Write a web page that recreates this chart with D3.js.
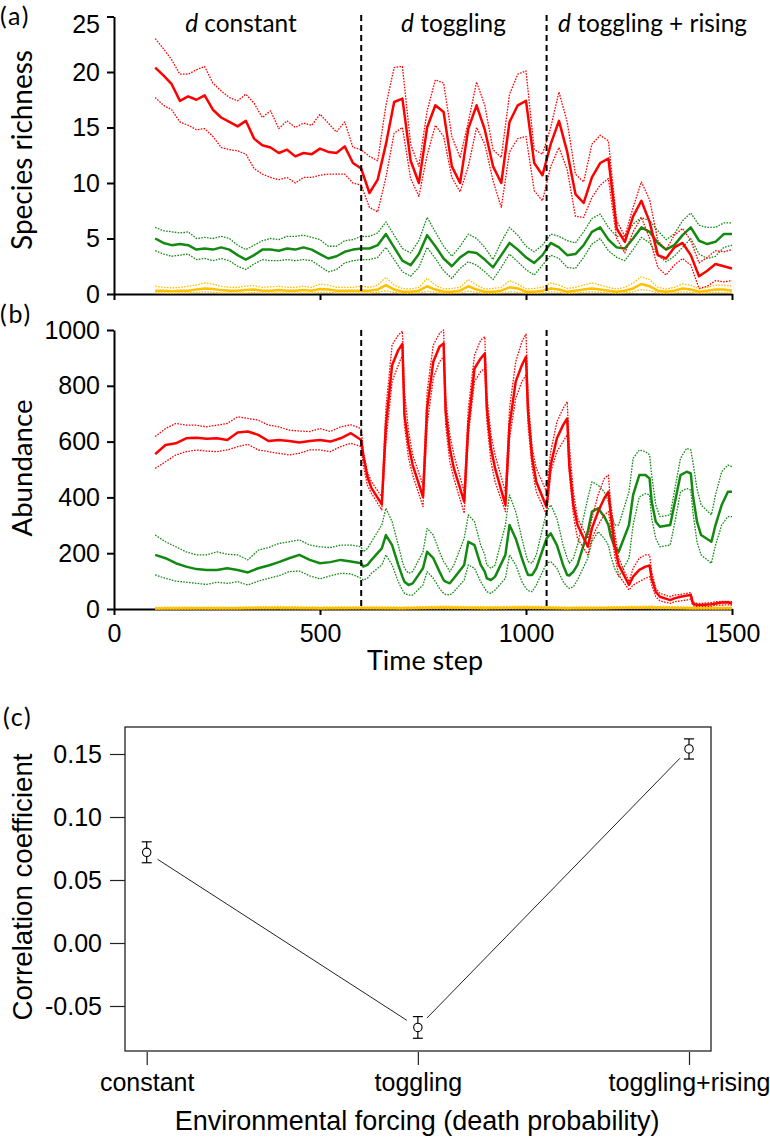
<!DOCTYPE html>
<html><head><meta charset="utf-8">
<script src="https://cdn.jsdelivr.net/npm/d3@7"></script>
<style>
html,body{margin:0;padding:0;background:#fff;}
svg{display:block;}
</style>
</head><body>
<svg id="chart" width="770" height="1139"></svg>
<script>
// ---------------- DATA ----------------
// Panel (a): species richness, sampled every 20 time steps
const timesA = [100,120,140,160,180,200,220,240,260,280,300,320,340,360,380,400,420,440,460,480,500,520,540,560,580,600,620,640,660,680,700,720,740,760,780,800,820,840,860,880,900,920,940,960,980,1000,1020,1040,1060,1080,1100,1120,1140,1160,1180,1200,1220,1240,1260,1280,1300,1320,1340,1360,1380,1400,1420,1440,1460,1480,1500];
const redMeanA = [20.4,19.7,18.9,17.4,17.8,17.5,17.9,16.6,15.9,15.5,15.1,15.6,14.0,13.4,13.2,12.7,13.0,12.4,12.7,12.6,13.1,12.8,12.7,13.3,11.8,11.3,9.1,10.3,13.5,17.3,17.6,12.0,10.0,15.0,17.0,16.4,11.5,10.0,14.9,17.0,14.8,11.5,10.0,15.5,17.0,17.4,11.8,10.7,13.5,15.6,12.8,9.0,8.2,10.5,11.8,12.2,5.9,4.7,7.0,8.4,6.5,3.5,3.2,4.2,4.6,3.5,1.6,2.1,2.7,2.5,2.3];
const redUpA = [23.0,22.1,21.1,19.8,19.8,20.2,20.5,19.0,18.3,17.7,17.4,18.0,17.2,15.9,16.5,14.9,15.6,15.0,15.4,15.2,16.2,15.4,14.6,15.5,13.2,13.0,12.4,12.0,17.0,20.4,20.5,13.5,11.5,16.5,19.3,19.0,14.2,12.3,15.5,19.1,17.0,13.0,12.3,18.0,19.8,20.1,13.0,12.6,15.0,18.2,15.5,10.8,10.1,13.5,14.3,13.8,6.6,5.2,7.8,10.1,8.5,4.8,4.0,5.3,5.9,4.8,2.8,3.3,3.9,3.8,4.0];
const redLoA = [17.7,17.0,16.6,15.5,15.2,14.8,14.9,14.2,13.2,13.0,12.9,12.6,11.3,10.8,10.5,10.3,10.5,10.0,10.5,10.5,10.7,10.8,10.8,10.8,10.0,9.8,7.8,7.4,10.5,14.5,15.0,10.4,8.8,12.5,15.2,14.2,10.5,9.2,11.5,15.0,13.5,10.2,7.8,12.8,14.0,14.2,9.3,8.4,11.5,13.2,11.2,7.0,6.9,8.7,9.8,10.4,5.0,3.7,5.6,6.9,5.0,2.4,1.7,2.6,3.2,2.6,0.5,0.7,1.2,1.1,1.2];
const greenMeanA = [5.0,4.6,4.4,4.5,4.4,4.0,4.1,4.0,4.2,4.0,3.5,3.1,3.5,4.0,4.0,3.9,4.1,4.0,4.2,4.0,3.6,3.2,3.4,3.8,4.0,4.1,4.1,4.4,5.4,4.2,3.0,2.6,3.6,5.3,4.3,3.2,2.5,3.3,3.8,3.7,3.1,2.4,3.5,4.6,4.0,3.3,2.8,3.5,4.6,4.2,3.5,3.6,4.4,5.6,6.0,4.9,4.2,4.1,5.0,6.0,5.6,4.6,4.0,4.4,5.3,6.0,4.8,4.5,4.7,5.4,5.4];
const greenUpA = [6.0,5.7,5.6,5.5,5.6,5.0,5.1,5.0,5.2,5.0,4.4,4.0,4.4,4.8,5.0,4.9,5.2,5.2,5.3,5.1,4.9,4.3,4.3,4.8,4.9,5.2,5.2,5.5,6.5,5.3,4.1,3.7,4.8,6.9,5.6,4.3,3.4,4.3,5.4,5.0,4.2,3.1,4.7,6.0,5.3,4.3,3.8,4.4,5.4,5.2,4.8,4.6,5.6,6.8,7.2,6.0,5.2,5.2,6.3,6.9,6.6,5.7,4.9,5.4,6.6,7.3,6.2,6.0,6.0,6.4,6.4];
const greenLoA = [3.9,3.6,3.4,3.5,3.6,3.1,3.2,3.0,3.2,3.0,2.5,2.2,2.7,3.1,3.0,3.0,3.1,3.0,3.1,3.0,2.5,2.0,2.2,2.8,3.0,3.1,3.1,3.3,4.2,3.1,2.0,1.6,2.4,4.2,3.2,2.1,1.4,2.3,2.9,2.6,2.0,1.3,2.4,3.6,2.9,2.2,1.7,2.6,3.5,3.2,2.4,2.3,3.3,4.5,5.0,3.9,3.3,3.0,4.0,5.1,4.6,3.5,2.9,3.4,4.2,5.0,3.6,3.2,3.4,4.2,4.4];
const goldMeanA = [0.3,0.3,0.25,0.3,0.3,0.4,0.5,0.45,0.35,0.3,0.3,0.35,0.4,0.3,0.3,0.35,0.3,0.3,0.35,0.3,0.45,0.4,0.3,0.3,0.3,0.3,0.3,0.4,0.8,0.4,0.2,0.2,0.3,0.7,0.4,0.2,0.2,0.3,0.7,0.4,0.2,0.2,0.3,0.6,0.5,0.2,0.2,0.3,0.5,0.4,0.2,0.3,0.4,0.5,0.4,0.3,0.2,0.3,0.5,0.9,0.7,0.3,0.2,0.3,0.5,0.4,0.2,0.3,0.4,0.4,0.3];
const goldUpA = [0.7,0.6,0.55,0.6,0.7,0.8,1.0,0.9,0.7,0.6,0.6,0.7,0.75,0.6,0.65,0.7,0.6,0.6,0.7,0.6,0.9,0.8,0.6,0.6,0.6,0.7,0.6,0.8,1.5,0.8,0.5,0.45,0.6,1.4,0.8,0.45,0.5,0.6,1.3,0.8,0.45,0.5,0.6,1.2,0.9,0.45,0.5,0.6,1.0,0.8,0.5,0.6,0.8,1.0,0.8,0.6,0.45,0.6,1.0,1.55,1.3,0.6,0.45,0.6,0.9,0.8,0.45,0.6,0.8,0.8,0.7];
const goldLoA = [0.1,0.1,0.05,0.1,0.1,0.15,0.2,0.15,0.1,0.1,0.1,0.1,0.15,0.1,0.1,0.1,0.1,0.1,0.1,0.1,0.15,0.15,0.1,0.1,0.1,0.1,0.1,0.15,0.3,0.15,0.05,0.05,0.1,0.25,0.15,0.05,0.05,0.1,0.25,0.15,0.05,0.05,0.1,0.2,0.15,0.05,0.05,0.1,0.2,0.15,0.05,0.1,0.15,0.2,0.15,0.1,0.05,0.1,0.2,0.4,0.3,0.1,0.05,0.1,0.2,0.15,0.05,0.1,0.15,0.15,0.1];

// Panel (b): abundance
const timesB = [100,125,150,175,200,225,250,275,300,325,350,375,400,425,450,475,500,525,550,575,
  600,605,615,625,650,660,675,690,
  700,705,715,725,750,760,775,790,
  800,805,815,825,850,860,875,890,
  900,905,915,925,950,960,975,990,
  1000,1005,1015,1025,1050,1060,1075,1090,
  1100,1105,1115,1125,1150,1160,1175,1190,
  1200,1205,1215,1225,1250,1260,1275,1290,
  1300,1305,1315,1325,1350,1360,1375,1390,
  1400,1405,1415,1425,1450,1460,1475,1490,
  1500];
const redMeanB = [555,588,594,612,614,610,612,606,633,636,624,602,606,602,597,602,606,600,612,630,
  606,552,474,433,375,659,874,928,
  950,695,588,516,402,719,886,940,
  952,707,576,504,385,659,862,898,
  916,719,576,504,373,659,815,874,
  904,707,540,456,365,516,612,659,
  683,516,373,301,223,289,349,397,
  420,349,229,158,86,116,140,152,
  156,110,62,44,32,38,44,48,
  50,20,14,14,17,20,23,24,
  20];
const redUpB = [618,647,665,659,659,653,659,665,689,683,677,659,653,641,638,636,647,636,653,660,
  647,564,492,456,402,719,946,982,
  996,779,636,552,444,779,946,988,
  1000,755,624,552,420,719,910,964,
  976,767,624,552,420,719,886,958,
  985,755,576,504,420,564,671,719,
  743,588,420,325,253,325,409,468,
  480,385,277,182,98,146,182,194,
  194,134,74,56,44,50,52,56,
  59,26,20,20,23,26,27,27,
  26];
const redLoB = [504,528,552,564,570,566,564,570,582,590,570,564,558,552,558,570,570,564,582,594,
  582,516,444,414,355,600,815,874,
  910,659,540,480,367,659,827,886,
  904,659,528,468,343,624,815,851,
  862,671,528,456,349,612,755,815,
  839,659,504,420,337,492,564,600,
  624,492,337,253,194,253,301,337,
  349,301,194,122,68,86,98,110,
  116,86,44,29,20,26,29,32,
  36,12,8,8,10,14,14,15,
  14];
const greenMeanB = [194,182,164,152,143,140,140,146,140,131,146,156,168,182,194,176,164,168,176,170,
  164,152,158,176,217,265,229,158,
  116,98,86,92,146,205,182,134,
  104,98,92,110,158,241,229,158,
  134,110,104,116,194,301,253,182,
  140,122,122,146,253,271,229,158,
  122,120,134,158,277,349,361,331,
  301,265,223,205,301,409,480,480,
  468,385,313,295,301,373,480,492,
  486,409,313,265,241,301,373,420,
  420];
const greenUpB = [265,241,223,205,194,194,205,196,194,176,211,220,235,241,248,229,223,220,229,229,
  223,205,217,241,301,361,313,229,
  170,146,128,134,205,289,265,205,
  170,160,134,158,253,337,313,229,
  194,158,146,158,301,409,349,253,
  194,170,164,194,349,373,325,229,
  182,164,182,229,397,456,444,420,
  385,349,301,301,420,540,570,564,
  552,480,373,331,337,420,540,576,
  570,528,432,373,337,409,492,516,
  510];
const greenLoB = [122,110,100,96,92,88,96,92,98,86,100,110,119,134,136,119,108,119,128,126,
  110,104,110,128,158,194,158,98,
  68,56,50,50,86,134,110,74,
  56,52,50,62,104,158,146,98,
  74,62,56,68,110,194,158,98,
  74,66,62,86,164,170,146,98,
  80,74,80,104,182,241,277,253,
  229,194,146,116,182,301,402,414,
  409,325,253,223,229,301,420,432,
  426,349,241,194,164,229,301,331,
  331];
const timesGoldB = [100,200,300,400,500,600,700,800,900,1000,1100,1200,1300,1400,1500];
const goldMeanB = [2,3,3,4,3,4,3,5,4,5,3,4,5,3,3];
const goldUpB = [6,7,7,9,7,8,7,10,8,10,7,8,10,7,7];
const goldLoB = [0,0,0,1,0,1,0,1,0,1,0,1,1,0,0];

const xTicks = [0,500,1000,1500];
const yTicksA = [0,5,10,15,20,25];
const yTicksB = [0,200,400,600,800,1000];
const phaseBreaks = [600,1050];
const phaseNames = ["constant","toggling","toggling + rising"];

// Panel (c): correlation coefficient
const categories = ["constant","toggling","toggling+rising"];
const corrValues = [0.072,-0.067,0.154];
const corrErrors = [0.0083,0.0086,0.008];
const yTicksC = [-0.05,0.00,0.05,0.10,0.15];

// ---------------- DRAWING ----------------
const svg = d3.select("#chart");
svg.append("rect").attr("width",770).attr("height",1139).attr("fill","#fff");

const tickFont = "'Liberation Sans', Arial, sans-serif";
const titleFont = "Lato, 'Open Sans', sans-serif";
const RED = "#ff0000", GREEN = "#128a12", GOLD = "#ffc000";

function fitWidth(sel, target){
  const w = sel.node().getComputedTextLength();
  const fs = parseFloat(sel.attr("font-size"));
  sel.attr("font-size", (fs*target/w).toFixed(2));
  return fs*target/w;
}

const x = d3.scaleLinear().domain([0,1500]).range([114,732]);
const yA = d3.scaleLinear().domain([0,25]).range([294,16.5]);
const yB = d3.scaleLinear().domain([0,1000]).range([609,330]);

function styleAxis(g){
  g.select(".domain").attr("stroke","#000").attr("stroke-width",2);
  g.selectAll(".tick line").attr("stroke","#000").attr("stroke-width",2);
  g.selectAll(".tick text").attr("font-family",tickFont).attr("font-size",25).attr("fill","#000");
}

// Panel a axes
const gAy = svg.append("g").attr("transform","translate(114,0)")
  .call(d3.axisLeft(yA).tickValues(yTicksA).tickSize(7).tickPadding(7).tickSizeOuter(0).tickFormat(d3.format("d")));
styleAxis(gAy);
gAy.selectAll(".tick text").filter(d=>d===25).attr("dy","0.62em");
const gAx = svg.append("g").attr("transform","translate(0,294)")
  .call(d3.axisBottom(x).tickValues(xTicks).tickSize(6).tickFormat("").tickSizeOuter(0));
styleAxis(gAx);

// Panel b axes
const gBy = svg.append("g").attr("transform","translate(114,0)")
  .call(d3.axisLeft(yB).tickValues(yTicksB).tickSize(7).tickPadding(7).tickSizeOuter(0).tickFormat(d3.format("d")));
styleAxis(gBy);
const gBx = svg.append("g").attr("transform","translate(0,609)")
  .call(d3.axisBottom(x).tickValues(xTicks).tickSize(6).tickPadding(9).tickSizeOuter(0).tickFormat(d3.format("d")));
styleAxis(gBx);

function drawSeries(times, vals, yScale, color, kind){
  const line = d3.line().x((d,i)=>x(times[i])).y(d=>yScale(d));
  svg.append("path").datum(vals).attr("d",line)
    .attr("fill","none").attr("stroke",color)
    .attr("stroke-width", kind==="mean" ? 2.5 : 1.3)
    .attr("stroke-dasharray", kind==="mean" ? null : "1.6,1.3")
    .attr("stroke-linejoin","round");
}

// Panel a series
drawSeries(timesA, goldUpA, yA, GOLD, "ci");
drawSeries(timesA, goldLoA, yA, GOLD, "ci");
drawSeries(timesA, goldMeanA, yA, GOLD, "mean");
drawSeries(timesA, greenUpA, yA, GREEN, "ci");
drawSeries(timesA, greenLoA, yA, GREEN, "ci");
drawSeries(timesA, greenMeanA, yA, GREEN, "mean");
drawSeries(timesA, redUpA, yA, RED, "ci");
drawSeries(timesA, redLoA, yA, RED, "ci");
drawSeries(timesA, redMeanA, yA, RED, "mean");

// Panel b series
drawSeries(timesB, greenUpB, yB, GREEN, "ci");
drawSeries(timesB, greenLoB, yB, GREEN, "ci");
drawSeries(timesB, greenMeanB, yB, GREEN, "mean");
drawSeries(timesB, redUpB, yB, RED, "ci");
drawSeries(timesB, redLoB, yB, RED, "ci");
drawSeries(timesB, redMeanB, yB, RED, "mean");
drawSeries(timesGoldB, goldUpB, yB, GOLD, "ci");
drawSeries(timesGoldB, goldLoB, yB, GOLD, "ci");
drawSeries(timesGoldB, goldMeanB, yB, GOLD, "mean");

// dashed phase breaks
phaseBreaks.forEach(t=>{
  svg.append("line").attr("x1",x(t)).attr("x2",x(t)).attr("y1",yA(25)-1.5).attr("y2",yA(0))
    .attr("stroke","#000").attr("stroke-width",2).attr("stroke-dasharray","6,4");
  svg.append("line").attr("x1",x(t)).attr("x2",x(t)).attr("y1",yB(1000)).attr("y2",yB(0))
    .attr("stroke","#000").attr("stroke-width",2).attr("stroke-dasharray","6,4");
});

// phase labels
const phaseCenters = [241,453.5,652.5];
const phaseTexts = phaseNames.map((n,i)=>{
  const t = svg.append("text").attr("y",32).attr("font-family",titleFont).attr("font-size",20).attr("fill","#000");
  t.append("tspan").attr("font-style","italic").text("d");
  t.append("tspan").text(" "+n);
  return t;
});
const pfs = fitWidth(phaseTexts[2], 189);
phaseTexts.forEach((t,i)=>{
  t.attr("font-size",pfs);
  const w = t.node().getComputedTextLength();
  t.attr("x", phaseCenters[i]-w/2);
});

// axis titles panels a/b
const tSR = svg.append("text").attr("transform","translate(32,150) rotate(-90)").attr("text-anchor","middle")
  .attr("font-family",titleFont).attr("font-size",20).text("Species richness");
fitWidth(tSR, 200);
const tAb = svg.append("text").attr("transform","translate(32,468) rotate(-90)").attr("text-anchor","middle")
  .attr("font-family",titleFont).attr("font-size",20).text("Abundance");
fitWidth(tAb, 137);
const tTS = svg.append("text").attr("x",425).attr("y",670).attr("text-anchor","middle")
  .attr("font-family",titleFont).attr("font-size",20).text("Time step");
fitWidth(tTS, 116);

// panel letters
[["(a)",25],["(b)",323],["(c)",726]].forEach(([s,yy],i)=>{
  svg.append("text").attr("x", i===2?3:0).attr("y",yy).attr("font-family",titleFont)
    .attr("font-size",25).attr("letter-spacing",1.8).text(s);
});

// ---------------- Panel c ----------------
const yC = d3.scaleLinear().domain([-0.05,0.15]).range([1006,754]);
const xC = d3.scalePoint().domain(categories).range([146.7,689]);
const boxL = 125, boxR = 711, boxT = 727, boxB = 1051;

svg.append("rect").attr("x",boxL).attr("y",boxT).attr("width",boxR-boxL).attr("height",boxB-boxT)
  .attr("fill","none").attr("stroke","#222").attr("stroke-width",1.3);

const gCy = svg.append("g").attr("transform",`translate(${boxL},0)`)
  .call(d3.axisLeft(yC).tickValues(yTicksC).tickSize(15).tickPadding(8).tickFormat(d=>d.toFixed(2)));
gCy.select(".domain").remove();
gCy.selectAll(".tick line").attr("stroke","#222").attr("stroke-width",1.2);
gCy.selectAll(".tick text").attr("font-family",tickFont).attr("font-size",25).attr("fill","#000");

const gCx = svg.append("g").attr("transform",`translate(0,${boxB+1})`)
  .call(d3.axisBottom(xC).tickSize(13).tickPadding(8));
gCx.select(".domain").remove();
gCx.selectAll(".tick line").attr("stroke","#222").attr("stroke-width",1.2);
gCx.selectAll(".tick text").attr("font-family",tickFont).attr("font-size",25).attr("fill","#000");

const tEF = svg.append("text").attr("x",417).attr("y",1130).attr("text-anchor","middle")
  .attr("font-family",tickFont).attr("font-size",25).text("Environmental forcing (death probability)");
fitWidth(tEF, 485);
const tCC = svg.append("text").attr("transform","translate(32,887) rotate(-90)").attr("text-anchor","middle")
  .attr("font-family",tickFont).attr("font-size",25).text("Correlation coefficient");
fitWidth(tCC, 267);

// connecting lines with gaps (type "b")
const pts = categories.map((c,i)=>[xC(c), yC(corrValues[i])]);
for(let i=0;i<pts.length-1;i++){
  const [x1,y1]=pts[i],[x2,y2]=pts[i+1];
  const dx=x2-x1, dy=y2-y1, L=Math.hypot(dx,dy), g=13;
  svg.append("line").attr("x1",x1+dx*g/L).attr("y1",y1+dy*g/L).attr("x2",x2-dx*g/L).attr("y2",y2-dy*g/L)
    .attr("stroke","#222").attr("stroke-width",1);
}
// error bars and points
categories.forEach((c,i)=>{
  const cx = xC(c);
  const yt = yC(corrValues[i]+corrErrors[i]), yb = yC(corrValues[i]-corrErrors[i]);
  const g = svg.append("g").attr("stroke","#000").attr("stroke-width",1.2).attr("fill","none");
  g.append("line").attr("x1",cx).attr("x2",cx).attr("y1",yt).attr("y2",yb);
  g.append("line").attr("x1",cx-5).attr("x2",cx+5).attr("y1",yt).attr("y2",yt);
  g.append("line").attr("x1",cx-5).attr("x2",cx+5).attr("y1",yb).attr("y2",yb);
  svg.append("circle").attr("cx",cx).attr("cy",yC(corrValues[i])).attr("r",4.2)
    .attr("fill","#fff").attr("stroke","#000").attr("stroke-width",1.1);
});
</script>
</body></html>
